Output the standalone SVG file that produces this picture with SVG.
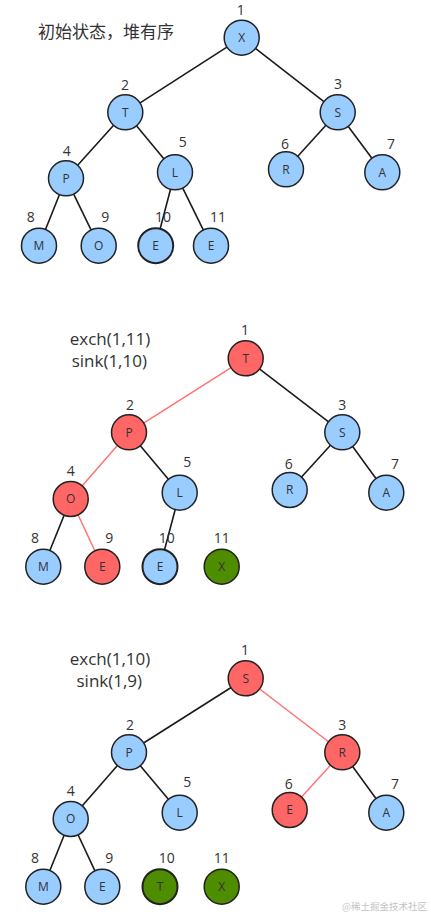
<svg xmlns="http://www.w3.org/2000/svg" width="431" height="915" viewBox="0 0 431 915">
<style>
.n circle{stroke:#222;stroke-width:1.5}
.b{fill:#99ccff}
.r{fill:#ff6666}
.g{fill:#4e8c00}
.thick{stroke-width:2 !important}
.lt{font-family:"Open Sans","Noto Sans",sans-serif;font-size:12px;fill:#333;text-anchor:middle}
.ix{font-family:"Open Sans","Noto Sans",sans-serif;font-size:14px;fill:#333;text-anchor:middle}
.cap{font-family:"Open Sans","Noto Sans","Noto Sans CJK SC",sans-serif;font-size:17px;fill:#333;text-anchor:middle}
.e{stroke:#1a1a1a;stroke-width:1.6;fill:none}
.er{stroke:#ff7070;stroke-width:1.4;fill:none}
</style>
<rect width="431" height="915" fill="#fff"/>
<!-- Panel 1 -->
<text x="38" y="38" style="font-family:'Noto Sans CJK SC',sans-serif;font-size:17px;fill:#333">初始状态，堆有序</text>
<g id="edges1">
<line class="e" x1="241.7" y1="37.7" x2="125.3" y2="112.3"/>
<line class="e" x1="241.7" y1="37.7" x2="337.7" y2="112.3"/>
<line class="e" x1="125.3" y1="112.3" x2="66" y2="178.3"/>
<line class="e" x1="125.3" y1="112.3" x2="175" y2="172.3"/>
<line class="e" x1="337.7" y1="112.3" x2="286" y2="169.3"/>
<line class="e" x1="337.7" y1="112.3" x2="382.3" y2="172.3"/>
<line class="e" x1="66" y1="178.3" x2="39" y2="245.7"/>
<line class="e" x1="66" y1="178.3" x2="98.7" y2="245.7"/>
<line class="e" x1="175" y1="172.3" x2="155.7" y2="245.7"/>
<line class="e" x1="175" y1="172.3" x2="211" y2="245.7"/>
</g>
<g id="p1n1" class="n"><circle class="b" cx="241.7" cy="37.7" r="17.5"/><text class="lt" x="241.7" y="42">X</text><text class="ix" x="240.7" y="15">1</text></g>
<g id="p1n2" class="n"><circle class="b" cx="125.3" cy="112.3" r="17.5"/><text class="lt" x="125.3" y="116.6">T</text><text class="ix" x="125" y="90">2</text></g>
<g id="p1n3" class="n"><circle class="b" cx="337.7" cy="112.3" r="17.5"/><text class="lt" x="337.7" y="116.6">S</text><text class="ix" x="338" y="89">3</text></g>
<g id="p1n4" class="n"><circle class="b" cx="66" cy="178.3" r="17.5"/><text class="lt" x="66" y="182.6">P</text><text class="ix" x="66.7" y="155.7">4</text></g>
<g id="p1n5" class="n"><circle class="b" cx="175" cy="172.3" r="17.5"/><text class="lt" x="175" y="176.6">L</text><text class="ix" x="182.7" y="146.7">5</text></g>
<g id="p1n6" class="n"><circle class="b" cx="286" cy="169.3" r="17.5"/><text class="lt" x="286" y="173.6">R</text><text class="ix" x="285" y="149">6</text></g>
<g id="p1n7" class="n"><circle class="b" cx="382.3" cy="172.3" r="17.5"/><text class="lt" x="382.3" y="176.6">A</text><text class="ix" x="391" y="149">7</text></g>
<g id="p1n8" class="n"><circle class="b" cx="39" cy="245.7" r="17.5"/><text class="lt" x="39" y="250">M</text><text class="ix" x="30.7" y="222">8</text></g>
<g id="p1n9" class="n"><circle class="b" cx="98.7" cy="245.7" r="17.5"/><text class="lt" x="98.7" y="250">O</text><text class="ix" x="105.3" y="222">9</text></g>
<g id="p1n10" class="n"><circle class="b thick" cx="155.7" cy="245.7" r="17.5"/><text class="lt" x="155.7" y="250">E</text><text class="ix" x="163" y="222">10</text></g>
<g id="p1n11" class="n"><circle class="b" cx="211" cy="245.7" r="17.5"/><text class="lt" x="211" y="250">E</text><text class="ix" x="218" y="222">11</text></g>

<!-- Panel 2 -->
<text class="cap" x="110" y="345">exch(1,11)</text>
<text class="cap" x="109.3" y="366.5">sink(1,10)</text>
<g id="edges2">
<line class="er" x1="245.7" y1="358.3" x2="129" y2="432.3"/>
<line class="e" x1="245.7" y1="358.3" x2="342.3" y2="432.3"/>
<line class="er" x1="129" y1="432.3" x2="70.7" y2="499"/>
<line class="e" x1="129" y1="432.3" x2="179.7" y2="492.7"/>
<line class="e" x1="342.3" y1="432.3" x2="289.7" y2="490"/>
<line class="e" x1="342.3" y1="432.3" x2="386.3" y2="492.7"/>
<line class="e" x1="70.7" y1="499" x2="43.3" y2="566.7"/>
<line class="er" x1="70.7" y1="499" x2="102.3" y2="566.7"/>
<line class="e" x1="179.7" y1="492.7" x2="160" y2="566.7"/>
</g>
<g id="p2n1" class="n"><circle class="r" cx="245.7" cy="358.3" r="17.5"/><text class="lt" x="245.7" y="362.6">T</text><text class="ix" x="245" y="335">1</text></g>
<g id="p2n2" class="n"><circle class="r" cx="129" cy="432.3" r="17.5"/><text class="lt" x="129" y="436.6">P</text><text class="ix" x="130" y="410">2</text></g>
<g id="p2n3" class="n"><circle class="b" cx="342.3" cy="432.3" r="17.5"/><text class="lt" x="342.3" y="436.6">S</text><text class="ix" x="342.3" y="410">3</text></g>
<g id="p2n4" class="n"><circle class="r" cx="70.7" cy="499" r="17.5"/><text class="lt" x="70.7" y="503.3">O</text><text class="ix" x="70.7" y="476">4</text></g>
<g id="p2n5" class="n"><circle class="b" cx="179.7" cy="492.7" r="17.5"/><text class="lt" x="179.7" y="497">L</text><text class="ix" x="187.3" y="466.7">5</text></g>
<g id="p2n6" class="n"><circle class="b" cx="289.7" cy="490" r="17.5"/><text class="lt" x="289.7" y="494.3">R</text><text class="ix" x="288.7" y="469">6</text></g>
<g id="p2n7" class="n"><circle class="b" cx="386.3" cy="492.7" r="17.5"/><text class="lt" x="386.3" y="497">A</text><text class="ix" x="395" y="469">7</text></g>
<g id="p2n8" class="n"><circle class="b" cx="43.3" cy="566.7" r="17.5"/><text class="lt" x="43.3" y="571">M</text><text class="ix" x="35" y="542.7">8</text></g>
<g id="p2n9" class="n"><circle class="r" cx="102.3" cy="566.7" r="17.5"/><text class="lt" x="102.3" y="571">E</text><text class="ix" x="109.3" y="542.7">9</text></g>
<g id="p2n10" class="n"><circle class="b thick" cx="160" cy="566.7" r="17.5"/><text class="lt" x="160" y="571">E</text><text class="ix" x="166.7" y="542.7">10</text></g>
<g id="p2n11" class="n"><circle class="g" cx="221.7" cy="566.7" r="17.5"/><text class="lt" x="221.7" y="571">X</text><text class="ix" x="221.7" y="542.7">11</text></g>

<!-- Panel 3 -->
<text class="cap" x="110" y="665">exch(1,10)</text>
<text class="cap" x="109.3" y="686.5">sink(1,9)</text>
<g id="edges3">
<line class="e" x1="245.7" y1="678.3" x2="129" y2="752.3"/>
<line class="er" x1="245.7" y1="678.3" x2="342.3" y2="752.3"/>
<line class="e" x1="129" y1="752.3" x2="70.7" y2="819"/>
<line class="e" x1="129" y1="752.3" x2="179.7" y2="812.7"/>
<line class="er" x1="342.3" y1="752.3" x2="289.7" y2="810"/>
<line class="e" x1="342.3" y1="752.3" x2="386.3" y2="812.7"/>
<line class="e" x1="70.7" y1="819" x2="43.3" y2="886.7"/>
<line class="e" x1="70.7" y1="819" x2="102.3" y2="886.7"/>
</g>
<g id="p3n1" class="n"><circle class="r" cx="245.7" cy="678.3" r="17.5"/><text class="lt" x="245.7" y="682.6">S</text><text class="ix" x="245" y="655">1</text></g>
<g id="p3n2" class="n"><circle class="b" cx="129" cy="752.3" r="17.5"/><text class="lt" x="129" y="756.6">P</text><text class="ix" x="130" y="730">2</text></g>
<g id="p3n3" class="n"><circle class="r" cx="342.3" cy="752.3" r="17.5"/><text class="lt" x="342.3" y="756.6">R</text><text class="ix" x="342.3" y="730">3</text></g>
<g id="p3n4" class="n"><circle class="b" cx="70.7" cy="819" r="17.5"/><text class="lt" x="70.7" y="823.3">O</text><text class="ix" x="70.7" y="796">4</text></g>
<g id="p3n5" class="n"><circle class="b" cx="179.7" cy="812.7" r="17.5"/><text class="lt" x="179.7" y="817">L</text><text class="ix" x="187.3" y="786.7">5</text></g>
<g id="p3n6" class="n"><circle class="r" cx="289.7" cy="810" r="17.5"/><text class="lt" x="289.7" y="814.3">E</text><text class="ix" x="288.7" y="789">6</text></g>
<g id="p3n7" class="n"><circle class="b" cx="386.3" cy="812.7" r="17.5"/><text class="lt" x="386.3" y="817">A</text><text class="ix" x="395" y="789">7</text></g>
<g id="p3n8" class="n"><circle class="b" cx="43.3" cy="886.7" r="17.5"/><text class="lt" x="43.3" y="891">M</text><text class="ix" x="35" y="862.7">8</text></g>
<g id="p3n9" class="n"><circle class="b" cx="102.3" cy="886.7" r="17.5"/><text class="lt" x="102.3" y="891">E</text><text class="ix" x="109.3" y="862.7">9</text></g>
<g id="p3n10" class="n"><circle class="g thick" cx="160" cy="886.7" r="17.5"/><text class="lt" x="160" y="891">T</text><text class="ix" x="166.7" y="862.7">10</text></g>
<g id="p3n11" class="n"><circle class="g" cx="221.7" cy="886.7" r="17.5"/><text class="lt" x="221.7" y="891">X</text><text class="ix" x="221.7" y="862.7">11</text></g>

<text x="427" y="910" style="font-family:'Noto Sans CJK SC',sans-serif;font-size:9.5px;fill:#c4c4c4;text-anchor:end">@稀土掘金技术社区</text>
</svg>
